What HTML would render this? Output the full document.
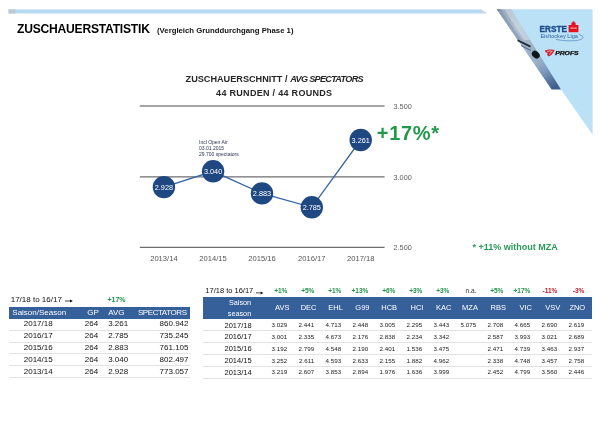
<!DOCTYPE html>
<html><head><meta charset="utf-8"><title>Zuschauerstatistik</title>
<style>
html,body{margin:0;padding:0;background:#fff;}
body{width:600px;height:428px;position:relative;overflow:hidden;filter:blur(0.4px);font-family:"Liberation Sans",sans-serif;color:#111;}
.a{position:absolute;white-space:nowrap;line-height:1;}
.c{transform:translateX(-50%);}
.r{transform:translateX(-100%);}
.t8{font-size:8px;}
.hd{color:#fff;}
.g{color:#1f9448;font-weight:bold;}
.rd{color:#c0202a;font-weight:bold;}
.sep{position:absolute;height:1px;background:#e2e2e2;}
</style></head><body>

<svg class="a" style="left:0;top:0" width="500" height="20" viewBox="0 0 500 20"><rect x="8.5" y="9.4" width="472.5" height="4.1" fill="#b7d9f3"/><rect x="8.5" y="9.4" width="7" height="4.1" fill="#bccad3"/><polygon points="481,9.4 481.5,9.4 487.5,13.5 481,13.5" fill="#c9d9de"/></svg>
<div class="a" id="title" style="left:17.0px;top:22.9px;font-size:12.1px;font-weight:bold;color:#000;letter-spacing:-0.22px;">ZUSCHAUERSTATISTIK</div>
<div class="a" id="sub" style="left:157px;top:26.6px;font-size:7.75px;font-weight:bold;color:#111;">(Vergleich Grunddurchgang Phase 1)</div>
<svg class="a" style="left:480px;top:0" width="120" height="140" viewBox="480 0 120 140">
<defs>
<linearGradient id="sg" x1="497" y1="9.2" x2="551.6" y2="89.5" gradientUnits="userSpaceOnUse">
<stop offset="0" stop-color="#4c5866"/>
<stop offset="0.035" stop-color="#98a9bc"/>
<stop offset="0.12" stop-color="#9fb1c4"/>
<stop offset="0.28" stop-color="#aebfd1"/>
<stop offset="0.40" stop-color="#a5b8cc"/>
<stop offset="0.55" stop-color="#9db2c9"/>
<stop offset="0.68" stop-color="#98b0c9"/>
<stop offset="0.80" stop-color="#7d9bbd"/>
<stop offset="0.92" stop-color="#55759f"/>
<stop offset="1" stop-color="#3d5e8e"/>
</linearGradient>
</defs>
<polygon points="504.8,9.2 592.6,9.2 592.6,134.7 561,89.5" fill="#bbe1f6"/>
<polygon points="496.7,9.2 511,9.2 561,89.5 551.6,89.5" fill="url(#sg)"/>
<polygon points="496.7,9.2 500.5,9.2 521.5,40 517.6,40" fill="#7d8fa4" opacity="0.55"/>
<polygon points="504,9.2 511,9.2 530,40 524,40" fill="#dfe8f1" opacity="0.45"/>
<path d="M517.6 40.3 L530.5 46.6" stroke="#1c2733" stroke-width="1.8" fill="none"/>
<path d="M521 45.5 L531 50.5" stroke="#5b6f86" stroke-width="1.2" fill="none"/>
<ellipse cx="535.8" cy="54.6" rx="4.4" ry="3.3" fill="#10151c" transform="rotate(42 535.8 54.6)"/>
<!-- ERSTE logo -->
<text x="539.6" y="32.2" font-family="Liberation Sans, sans-serif" font-weight="bold" font-size="9.8" fill="#1a4a87" stroke="#1a4a87" stroke-width="0.35" textLength="27.3" lengthAdjust="spacingAndGlyphs">ERSTE</text>
<rect x="568.6" y="25" width="9.8" height="7.2" fill="#e3131f"/>
<rect x="571.4" y="22.6" width="4.2" height="3" fill="#e3131f"/>
<circle cx="573.5" cy="22.3" r="1.1" fill="#e3131f"/>
<rect x="570.2" y="27.6" width="6.6" height="1" fill="#f6b8bc"/>
<text x="540.4" y="38" font-family="Liberation Sans, sans-serif" font-size="5.4" fill="#2d5d9f" textLength="37.5" lengthAdjust="spacingAndGlyphs">Eishockey Liga</text>
<path d="M579 34.5 C586 36.5 584 40.5 572 40.8 C566 41 560 40.3 556 39.4" stroke="#3f74b5" stroke-width="0.6" fill="none"/>
<!-- PROFS -->
<path d="M544.9 50.6 Q549.6 48.7 554.7 50.1 L553 53 Q551.2 56 548.6 56.5 Q546.6 55.4 547.6 52.8 L545.6 52.3 Z" fill="#d2202c"/>
<path d="M547 51.4 Q550 50.6 552.4 51.4 Q550 52 549.4 54.6" stroke="#f3d6d8" stroke-width="0.7" fill="none"/>
<text x="555.2" y="55.4" font-family="Liberation Sans, sans-serif" font-weight="bold" font-style="italic" font-size="4.5" fill="#111" stroke="#111" stroke-width="0.25" textLength="23.4" lengthAdjust="spacingAndGlyphs">PROFS</text>
</svg>
<div class="a" id="ct1" style="left:185.6px;top:75.1px;font-size:9.15px;font-weight:bold;color:#262626;">ZUSCHAUERSCHNITT /</div>
<div class="a" id="ct1b" style="left:290.3px;top:75.1px;font-size:9.15px;font-weight:bold;font-style:italic;color:#262626;letter-spacing:-0.7px">AVG SPECTATORS</div>
<div class="a c" id="ct2" style="left:274.25px;top:88.7px;font-size:9px;font-weight:bold;color:#262626;letter-spacing:0.3px;">44 RUNDEN / 44 ROUNDS</div>
<svg class="a" style="left:0;top:95px" width="600" height="180" viewBox="0 95 600 180"><line x1="139.8" x2="384.6" y1="106.0" y2="106.0" stroke="#4a4a4a" stroke-width="1"/><line x1="139.8" x2="384.6" y1="176.9" y2="176.9" stroke="#4a4a4a" stroke-width="1"/><line x1="139.8" x2="384.6" y1="247.3" y2="247.3" stroke="#4a4a4a" stroke-width="1"/><polyline fill="none" stroke="#3565a6" stroke-width="1.3" points="163.9,187.1 213.1,171.3 262.0,193.4 311.8,207.3 360.7,140.0"/><circle cx="163.9" cy="187.1" r="11.2" fill="#1f4883"/><text x="163.9" y="189.6" text-anchor="middle" font-family="Liberation Sans, sans-serif" font-size="7.3" fill="#fff">2.928</text><circle cx="213.1" cy="171.3" r="11.2" fill="#1f4883"/><text x="213.1" y="173.8" text-anchor="middle" font-family="Liberation Sans, sans-serif" font-size="7.3" fill="#fff">3.040</text><circle cx="262.0" cy="193.4" r="11.2" fill="#1f4883"/><text x="262.0" y="195.9" text-anchor="middle" font-family="Liberation Sans, sans-serif" font-size="7.3" fill="#fff">2.883</text><circle cx="311.8" cy="207.3" r="11.2" fill="#1f4883"/><text x="311.8" y="209.8" text-anchor="middle" font-family="Liberation Sans, sans-serif" font-size="7.3" fill="#fff">2.785</text><circle cx="360.7" cy="140.0" r="11.2" fill="#1f4883"/><text x="360.7" y="142.5" text-anchor="middle" font-family="Liberation Sans, sans-serif" font-size="7.3" fill="#fff">3.261</text><text x="393.5" y="108.6" font-family="Liberation Sans, sans-serif" font-size="7.3" fill="#606060">3.500</text><text x="393.5" y="179.5" font-family="Liberation Sans, sans-serif" font-size="7.3" fill="#606060">3.000</text><text x="393.5" y="249.9" font-family="Liberation Sans, sans-serif" font-size="7.3" fill="#606060">2.500</text><text x="163.9" y="261.1" text-anchor="middle" font-family="Liberation Sans, sans-serif" font-size="7.6" fill="#555">2013/14</text><text x="213.1" y="261.1" text-anchor="middle" font-family="Liberation Sans, sans-serif" font-size="7.6" fill="#555">2014/15</text><text x="262.0" y="261.1" text-anchor="middle" font-family="Liberation Sans, sans-serif" font-size="7.6" fill="#555">2015/16</text><text x="311.8" y="261.1" text-anchor="middle" font-family="Liberation Sans, sans-serif" font-size="7.6" fill="#555">2016/17</text><text x="360.7" y="261.1" text-anchor="middle" font-family="Liberation Sans, sans-serif" font-size="7.6" fill="#555">2017/18</text></svg>
<div class="a" id="ann" style="left:199px;top:140px;font-size:5px;line-height:5.9px;color:#2b3550;">Incl Open Air<br>03.01.2015<br>29.700 spectators</div>
<div class="a" id="big" style="left:376.8px;top:123.1px;font-size:20px;font-weight:bold;color:#1e9a49;letter-spacing:0.7px;">+17%*</div>
<div class="a" id="note" style="left:472.6px;top:242.8px;font-size:9px;font-weight:bold;color:#2a9a58;">* +11% without MZA</div>
<div class="a  " style="left:10.70px;top:295.69px;font-size:8px;">17/18 to 16/17 <svg width="8" height="4" viewBox="0 0 8 4" style="display:inline-block;vertical-align:-1.6px;margin-left:1px"><path d="M0 2 H6.2" stroke="#111" stroke-width="0.8" fill="none"/><path d="M5 0.4 L7.8 2 L5 3.6 Z" fill="#111"/></svg></div>
<div class="a g " style="left:107.50px;top:296.38px;font-size:7px;">+17%</div>
<div class="a" style="left:9.0px;top:306.9px;width:181.2px;height:12.0px;background:#36609a;"></div>
<div class="a hd " style="left:12.30px;top:309.09px;font-size:8px;">Saison/Season</div>
<div class="a hd r" style="left:98.80px;top:309.09px;font-size:8px;">GP</div>
<div class="a hd " style="left:108.20px;top:309.09px;font-size:8px;">AVG</div>
<div class="a hd r" style="left:186.60px;top:309.09px;font-size:8px;letter-spacing:-0.42px;">SPECTATORS</div>
<div class="a  c" style="left:38.20px;top:319.99px;font-size:8px;">2017/18</div>
<div class="a  r" style="left:98.20px;top:319.99px;font-size:8px;">264</div>
<div class="a  " style="left:108.20px;top:319.99px;font-size:8px;">3.261</div>
<div class="a  r" style="left:188.50px;top:319.99px;font-size:8px;">860.942</div>
<div class="sep" style="left:9.0px;width:181.2px;top:329.5px;"></div>
<div class="a  c" style="left:38.20px;top:332.09px;font-size:8px;">2016/17</div>
<div class="a  r" style="left:98.20px;top:332.09px;font-size:8px;">264</div>
<div class="a  " style="left:108.20px;top:332.09px;font-size:8px;">2.785</div>
<div class="a  r" style="left:188.50px;top:332.09px;font-size:8px;">735.245</div>
<div class="sep" style="left:9.0px;width:181.2px;top:341.5px;"></div>
<div class="a  c" style="left:38.20px;top:343.79px;font-size:8px;">2015/16</div>
<div class="a  r" style="left:98.20px;top:343.79px;font-size:8px;">264</div>
<div class="a  " style="left:108.20px;top:343.79px;font-size:8px;">2.883</div>
<div class="a  r" style="left:188.50px;top:343.79px;font-size:8px;">761.105</div>
<div class="sep" style="left:9.0px;width:181.2px;top:353.3px;"></div>
<div class="a  c" style="left:38.20px;top:355.59px;font-size:8px;">2014/15</div>
<div class="a  r" style="left:98.20px;top:355.59px;font-size:8px;">264</div>
<div class="a  " style="left:108.20px;top:355.59px;font-size:8px;">3.040</div>
<div class="a  r" style="left:188.50px;top:355.59px;font-size:8px;">802.497</div>
<div class="sep" style="left:9.0px;width:181.2px;top:365.2px;"></div>
<div class="a  c" style="left:38.20px;top:367.79px;font-size:8px;">2013/14</div>
<div class="a  r" style="left:98.20px;top:367.79px;font-size:8px;">264</div>
<div class="a  " style="left:108.20px;top:367.79px;font-size:8px;">2.928</div>
<div class="a  r" style="left:188.50px;top:367.79px;font-size:8px;">773.057</div>
<div class="sep" style="left:9.0px;width:181.2px;top:377.1px;"></div>
<div class="a  " style="left:205.30px;top:287.34px;font-size:7.5px;">17/18 to 16/17 <svg width="7.5" height="3.75" viewBox="0 0 8 4" style="display:inline-block;vertical-align:-1.6px;margin-left:1px"><path d="M0 2 H6.2" stroke="#111" stroke-width="0.8" fill="none"/><path d="M5 0.4 L7.8 2 L5 3.6 Z" fill="#111"/></svg></div>
<div class="a" style="left:203.0px;top:297.2px;width:388.7px;height:21.5px;background:#36609a;"></div>
<div class="a hd c" style="left:240.00px;top:298.86px;font-size:7.25px;">Saison</div>
<div class="a hd c" style="left:239.50px;top:309.56px;font-size:7.25px;">season</div>
<div class="a g r" style="left:287.40px;top:287.82px;font-size:6.5px;">+1%</div>
<div class="a hd c" style="left:282.30px;top:304.04px;font-size:7.5px;">AVS</div>
<div class="a g r" style="left:314.40px;top:287.82px;font-size:6.5px;">+5%</div>
<div class="a hd c" style="left:308.60px;top:304.04px;font-size:7.5px;">DEC</div>
<div class="a g r" style="left:341.40px;top:287.82px;font-size:6.5px;">+1%</div>
<div class="a hd c" style="left:335.60px;top:304.04px;font-size:7.5px;">EHL</div>
<div class="a g r" style="left:368.40px;top:287.82px;font-size:6.5px;">+13%</div>
<div class="a hd c" style="left:362.40px;top:304.04px;font-size:7.5px;">G99</div>
<div class="a g r" style="left:395.40px;top:287.82px;font-size:6.5px;">+6%</div>
<div class="a hd c" style="left:389.20px;top:304.04px;font-size:7.5px;">HCB</div>
<div class="a g r" style="left:422.40px;top:287.82px;font-size:6.5px;">+3%</div>
<div class="a hd c" style="left:417.00px;top:304.04px;font-size:7.5px;">HCI</div>
<div class="a g r" style="left:449.40px;top:287.82px;font-size:6.5px;">+3%</div>
<div class="a hd c" style="left:443.70px;top:304.04px;font-size:7.5px;">KAC</div>
<div class="a  r" style="left:476.40px;top:287.82px;font-size:6.5px;color:#333;">n.a.</div>
<div class="a hd c" style="left:470.00px;top:304.04px;font-size:7.5px;">MZA</div>
<div class="a g r" style="left:503.40px;top:287.82px;font-size:6.5px;">+5%</div>
<div class="a hd c" style="left:498.20px;top:304.04px;font-size:7.5px;">RBS</div>
<div class="a g r" style="left:530.40px;top:287.82px;font-size:6.5px;">+17%</div>
<div class="a hd c" style="left:525.70px;top:304.04px;font-size:7.5px;">VIC</div>
<div class="a rd r" style="left:557.40px;top:287.82px;font-size:6.5px;">-11%</div>
<div class="a hd c" style="left:552.70px;top:304.04px;font-size:7.5px;">VSV</div>
<div class="a rd r" style="left:584.40px;top:287.82px;font-size:6.5px;">-3%</div>
<div class="a hd c" style="left:577.30px;top:304.04px;font-size:7.5px;">ZNO</div>
<div class="a  c" style="left:238.10px;top:321.64px;font-size:7.5px;">2017/18</div>
<div class="a  r" style="left:287.10px;top:322.47px;font-size:6.2px;color:#222;">3.029</div>
<div class="a  r" style="left:314.10px;top:322.47px;font-size:6.2px;color:#222;">2.441</div>
<div class="a  r" style="left:341.10px;top:322.47px;font-size:6.2px;color:#222;">4.713</div>
<div class="a  r" style="left:368.10px;top:322.47px;font-size:6.2px;color:#222;">2.448</div>
<div class="a  r" style="left:395.10px;top:322.47px;font-size:6.2px;color:#222;">3.005</div>
<div class="a  r" style="left:422.10px;top:322.47px;font-size:6.2px;color:#222;">2.295</div>
<div class="a  r" style="left:449.10px;top:322.47px;font-size:6.2px;color:#222;">3.443</div>
<div class="a  r" style="left:476.10px;top:322.47px;font-size:6.2px;color:#222;">5.075</div>
<div class="a  r" style="left:503.10px;top:322.47px;font-size:6.2px;color:#222;">2.708</div>
<div class="a  r" style="left:530.10px;top:322.47px;font-size:6.2px;color:#222;">4.665</div>
<div class="a  r" style="left:557.10px;top:322.47px;font-size:6.2px;color:#222;">2.690</div>
<div class="a  r" style="left:584.10px;top:322.47px;font-size:6.2px;color:#222;">2.619</div>
<div class="sep" style="left:203.0px;width:388.7px;top:330.4px;"></div>
<div class="a  c" style="left:238.10px;top:333.24px;font-size:7.5px;">2016/17</div>
<div class="a  r" style="left:287.10px;top:334.07px;font-size:6.2px;color:#222;">3.001</div>
<div class="a  r" style="left:314.10px;top:334.07px;font-size:6.2px;color:#222;">2.335</div>
<div class="a  r" style="left:341.10px;top:334.07px;font-size:6.2px;color:#222;">4.673</div>
<div class="a  r" style="left:368.10px;top:334.07px;font-size:6.2px;color:#222;">2.176</div>
<div class="a  r" style="left:395.10px;top:334.07px;font-size:6.2px;color:#222;">2.838</div>
<div class="a  r" style="left:422.10px;top:334.07px;font-size:6.2px;color:#222;">2.234</div>
<div class="a  r" style="left:449.10px;top:334.07px;font-size:6.2px;color:#222;">3.342</div>
<div class="a  r" style="left:503.10px;top:334.07px;font-size:6.2px;color:#222;">2.587</div>
<div class="a  r" style="left:530.10px;top:334.07px;font-size:6.2px;color:#222;">3.993</div>
<div class="a  r" style="left:557.10px;top:334.07px;font-size:6.2px;color:#222;">3.021</div>
<div class="a  r" style="left:584.10px;top:334.07px;font-size:6.2px;color:#222;">2.689</div>
<div class="sep" style="left:203.0px;width:388.7px;top:342.3px;"></div>
<div class="a  c" style="left:238.10px;top:345.24px;font-size:7.5px;">2015/16</div>
<div class="a  r" style="left:287.10px;top:346.07px;font-size:6.2px;color:#222;">3.192</div>
<div class="a  r" style="left:314.10px;top:346.07px;font-size:6.2px;color:#222;">2.799</div>
<div class="a  r" style="left:341.10px;top:346.07px;font-size:6.2px;color:#222;">4.548</div>
<div class="a  r" style="left:368.10px;top:346.07px;font-size:6.2px;color:#222;">2.190</div>
<div class="a  r" style="left:395.10px;top:346.07px;font-size:6.2px;color:#222;">2.401</div>
<div class="a  r" style="left:422.10px;top:346.07px;font-size:6.2px;color:#222;">1.536</div>
<div class="a  r" style="left:449.10px;top:346.07px;font-size:6.2px;color:#222;">3.475</div>
<div class="a  r" style="left:503.10px;top:346.07px;font-size:6.2px;color:#222;">2.471</div>
<div class="a  r" style="left:530.10px;top:346.07px;font-size:6.2px;color:#222;">4.739</div>
<div class="a  r" style="left:557.10px;top:346.07px;font-size:6.2px;color:#222;">3.463</div>
<div class="a  r" style="left:584.10px;top:346.07px;font-size:6.2px;color:#222;">2.937</div>
<div class="sep" style="left:203.0px;width:388.7px;top:354.2px;"></div>
<div class="a  c" style="left:238.10px;top:356.84px;font-size:7.5px;">2014/15</div>
<div class="a  r" style="left:287.10px;top:357.67px;font-size:6.2px;color:#222;">3.252</div>
<div class="a  r" style="left:314.10px;top:357.67px;font-size:6.2px;color:#222;">2.611</div>
<div class="a  r" style="left:341.10px;top:357.67px;font-size:6.2px;color:#222;">4.593</div>
<div class="a  r" style="left:368.10px;top:357.67px;font-size:6.2px;color:#222;">2.633</div>
<div class="a  r" style="left:395.10px;top:357.67px;font-size:6.2px;color:#222;">2.155</div>
<div class="a  r" style="left:422.10px;top:357.67px;font-size:6.2px;color:#222;">1.882</div>
<div class="a  r" style="left:449.10px;top:357.67px;font-size:6.2px;color:#222;">4.962</div>
<div class="a  r" style="left:503.10px;top:357.67px;font-size:6.2px;color:#222;">2.338</div>
<div class="a  r" style="left:530.10px;top:357.67px;font-size:6.2px;color:#222;">4.748</div>
<div class="a  r" style="left:557.10px;top:357.67px;font-size:6.2px;color:#222;">3.457</div>
<div class="a  r" style="left:584.10px;top:357.67px;font-size:6.2px;color:#222;">2.758</div>
<div class="sep" style="left:203.0px;width:388.7px;top:366.0px;"></div>
<div class="a  c" style="left:238.10px;top:368.64px;font-size:7.5px;">2013/14</div>
<div class="a  r" style="left:287.10px;top:369.47px;font-size:6.2px;color:#222;">3.219</div>
<div class="a  r" style="left:314.10px;top:369.47px;font-size:6.2px;color:#222;">2.607</div>
<div class="a  r" style="left:341.10px;top:369.47px;font-size:6.2px;color:#222;">3.853</div>
<div class="a  r" style="left:368.10px;top:369.47px;font-size:6.2px;color:#222;">2.894</div>
<div class="a  r" style="left:395.10px;top:369.47px;font-size:6.2px;color:#222;">1.976</div>
<div class="a  r" style="left:422.10px;top:369.47px;font-size:6.2px;color:#222;">1.636</div>
<div class="a  r" style="left:449.10px;top:369.47px;font-size:6.2px;color:#222;">3.999</div>
<div class="a  r" style="left:503.10px;top:369.47px;font-size:6.2px;color:#222;">2.452</div>
<div class="a  r" style="left:530.10px;top:369.47px;font-size:6.2px;color:#222;">4.799</div>
<div class="a  r" style="left:557.10px;top:369.47px;font-size:6.2px;color:#222;">3.560</div>
<div class="a  r" style="left:584.10px;top:369.47px;font-size:6.2px;color:#222;">2.446</div>
<div class="sep" style="left:203.0px;width:388.7px;top:377.5px;"></div>
</body></html>
